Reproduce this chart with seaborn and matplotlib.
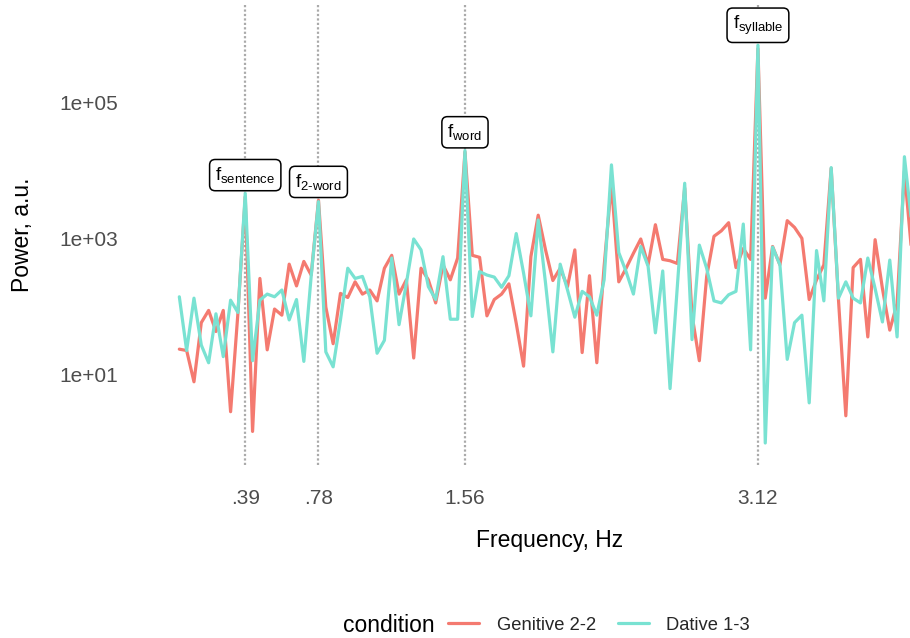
import numpy as np
import pandas as pd
import matplotlib
matplotlib.use("Agg")
import matplotlib.pyplot as plt
from matplotlib.lines import Line2D
from matplotlib.ticker import FixedLocator, FixedFormatter, NullLocator
import seaborn as sns

# Frequency bins: k / 25.6 s, k = 1..101
bin_index = list(range(1, 102))
freq_step = 1 / 25.6

# log10 power per bin, one list per condition
genitive_log10 = [
    1.38, 1.36, 0.90, 1.77, 1.95, 1.64, 1.95, 0.46, 1.91, 3.62,
    0.17, 2.42, 1.37, 1.97, 1.88, 2.63, 2.31, 2.67, 2.47, 3.57,
    2.00, 1.46, 2.20, 2.14, 2.37, 2.19, 2.25, 2.09, 2.57, 2.76,
    2.19, 2.40, 1.25, 2.57, 2.40, 2.06, 2.62, 2.40, 2.72, 4.28,
    2.76, 2.73, 1.87, 2.11, 2.19, 2.34, 1.76, 1.13, 2.74, 3.35,
    2.84, 2.39, 2.57, 2.30, 2.84, 1.33, 2.46, 1.18, 2.60, 3.82,
    2.37, 2.57, 2.79, 3.00, 2.62, 3.21, 2.70, 2.68, 2.64, 3.75,
    1.88, 1.21, 2.45, 3.04, 3.12, 3.24, 2.58, 2.86, 2.70, 5.80,
    2.13, 2.89, 2.62, 3.27, 3.17, 3.01, 2.11, 2.40, 2.62, 4.04,
    2.10, 0.40, 2.58, 2.70, 1.56, 2.99, 2.27, 1.66, 2.05, 4.00,
    2.79,
]
dative_log10 = [
    2.15, 1.36, 2.13, 1.44, 1.18, 1.90, 1.27, 2.10, 1.92, 3.67,
    1.21, 2.10, 2.19, 2.15, 2.25, 1.81, 2.11, 1.20, 2.45, 3.55,
    1.34, 1.12, 1.81, 2.57, 2.42, 2.45, 2.15, 1.32, 1.51, 2.72,
    1.74, 2.35, 3.00, 2.84, 2.30, 2.11, 2.74, 1.82, 1.82, 4.30,
    1.86, 2.52, 2.47, 2.44, 2.29, 2.46, 3.08, 2.50, 1.87, 3.28,
    2.35, 1.34, 2.63, 2.25, 1.85, 2.23, 2.15, 1.88, 2.40, 4.09,
    2.80, 2.52, 2.19, 2.89, 2.60, 1.62, 2.53, 0.80, 2.31, 3.82,
    1.52, 2.91, 2.57, 2.09, 2.06, 2.18, 2.23, 3.22, 1.37, 5.85,
    0.00, 2.88, 2.62, 1.23, 1.77, 1.88, 0.59, 2.83, 2.09, 4.05,
    2.13, 2.37, 2.13, 2.06, 2.72, 2.27, 1.78, 2.69, 1.56, 4.21,
    3.23,
]

conditions = ["Genitive 2-2", "Dative 1-3"]
palette = {"Genitive 2-2": "#F47A70", "Dative 1-3": "#79E2D2"}

# Marked rhythm frequencies and their labels
marker_freqs = [0.390625, 0.78125, 1.5625, 3.125]
marker_labels = [
    r"$\mathregular{f_{sentence}}$",
    r"$\mathregular{f_{2\text{-}word}}$",
    r"$\mathregular{f_{word}}$",
    r"$\mathregular{f_{syllable}}$",
]
x_tick_labels = [".39", ".78", "1.56", "3.12"]
y_ticks = [1e1, 1e3, 1e5]
y_tick_labels = ["1e+01", "1e+03", "1e+05"]

freq = [k * freq_step for k in bin_index]
df = pd.DataFrame({
    "freq": freq * 2,
    "power": [10 ** v for v in genitive_log10] + [10 ** v for v in dative_log10],
    "condition": [conditions[0]] * len(freq) + [conditions[1]] * len(freq),
})

sns.set_theme(style="white")
plt.rcParams["font.family"] = ["Liberation Sans", "DejaVu Sans"]
plt.rcParams["mathtext.fontset"] = "custom"
plt.rcParams["mathtext.rm"] = "Liberation Sans"
plt.rcParams["mathtext.it"] = "Liberation Sans"

W, H = 910, 638
fig = plt.figure(figsize=(W / 100, H / 100), dpi=100)
ax_left, ax_right, ax_top, ax_bottom = 124, 910, 5, 465
ax = fig.add_axes([ax_left / W, 1 - ax_bottom / H,
                   (ax_right - ax_left) / W, (ax_bottom - ax_top) / H])

# pixel -> data mapping of the panel
px_per_hz = 187.5
x0_px = 172
ax.set_xlim((ax_left - x0_px) / px_per_hz, (ax_right - x0_px) / px_per_hz)
ax.set_yscale("log")
px_per_dec = 68
ax.set_ylim(10 ** (1 + (375 - ax_bottom) / px_per_dec),
            10 ** (1 + (375 - ax_top) / px_per_dec))

for f in marker_freqs:
    ax.axvline(f, color="#AAAAAA", lw=1.6, ls=(0, (1, 1)), zorder=1)

sns.lineplot(data=df, x="freq", y="power", hue="condition",
             hue_order=conditions, palette=palette, lw=2.3, ax=ax,
             legend=False, zorder=3)

# Labels above each peak
for f, lab in zip(marker_freqs, marker_labels):
    k = int(round(f / freq_step))
    peak = max(genitive_log10[k - 1], dative_log10[k - 1])
    ax.annotate(lab, xy=(f, 10 ** peak), xytext=(0, 6), textcoords="offset points",
                ha="center", va="bottom", fontsize=13.5, color="black", zorder=5,
                bbox=dict(boxstyle="round,pad=0.3,rounding_size=0.3",
                          fc="white", ec="black", lw=1.1))

ax.xaxis.set_major_locator(FixedLocator(marker_freqs))
ax.xaxis.set_major_formatter(FixedFormatter(x_tick_labels))
ax.yaxis.set_major_locator(FixedLocator(y_ticks))
ax.yaxis.set_major_formatter(FixedFormatter(y_tick_labels))
ax.yaxis.set_minor_locator(NullLocator())
ax.tick_params(axis="x", length=0, pad=17, labelsize=15, labelcolor="#4D4D4D")
ax.tick_params(axis="y", length=0, pad=4, labelsize=15, labelcolor="#4D4D4D")
ax.set_xlabel("")
ax.set_ylabel("")
for s in ax.spines.values():
    s.set_visible(False)
ax.grid(False)

fig.text(23 / W, 1 - 235 / H, "Power, a.u.", rotation=90, ha="center",
         va="center", fontsize=16.5, color="black")
fig.text(550 / W, 1 - 540 / H, "Frequency, Hz", ha="center", va="center",
         fontsize=16.5, color="black")

# Legend along the bottom, title inline
fig.text(343 / W, 1 - 625 / H, "condition", ha="left", va="center",
         fontsize=16.5, color="black")
handles = [Line2D([], [], color=palette[c], lw=2.3) for c in conditions]
fig.legend(handles, conditions, loc="center left",
           bbox_to_anchor=(448 / W, 1 - 625 / H), ncol=2, frameon=False,
           fontsize=13.2, handlelength=1.7, handletextpad=0.95,
           columnspacing=1.2, borderpad=0, borderaxespad=0)

fig.savefig("out.png", dpi=100)
